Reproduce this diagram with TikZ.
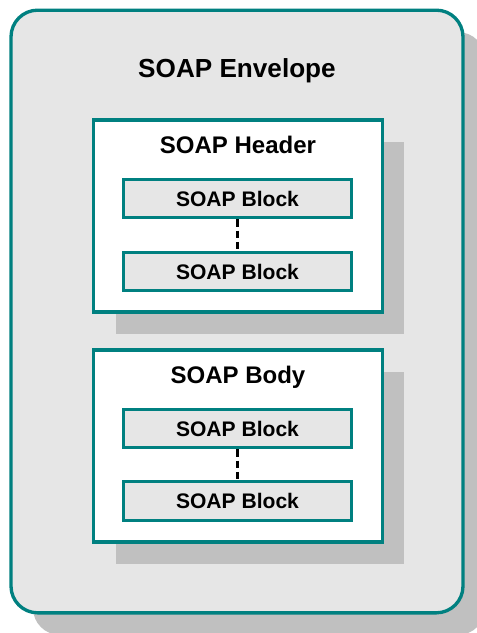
\documentclass[tikz,border=0pt]{standalone}
\usepackage{fontspec}
\setmainfont{Liberation Sans}
\usetikzlibrary{shadows}

\definecolor{soapteal}{RGB}{0,128,128}
\definecolor{soapgray}{RGB}{230,230,230}
\definecolor{soapshade}{RGB}{192,192,192}

\tikzset{
	soap shadow/.style={drop shadow={shadow xshift=16.5pt, shadow yshift=-16.5pt, opacity=1, fill=soapshade}},
	envelope box/.style={draw=soapteal, line width=2.5pt, fill=soapgray, rounded corners=20pt, minimum width=339pt, minimum height=452pt, inner sep=0pt, soap shadow},
	part box/.style={draw=soapteal, line width=2.3pt, fill=white, minimum width=216.5pt, minimum height=144pt, inner sep=0pt, soap shadow},
	block box/.style={draw=soapteal, line width=2.2pt, fill=soapgray, minimum width=171.5pt, minimum height=29pt, inner sep=0pt, font=\fontsize{15.8}{18}\selectfont\bfseries},
	title text/.style={anchor=base, inner sep=0pt, font=\fontsize{18}{21}\selectfont\bfseries},
	block link/.style={draw=black, line width=1.8pt, dash pattern=on 5.5pt off 3pt}}
\tikzset{every picture/.style={line width=0.75pt}}

\begin{document}
\begin{tikzpicture}[x=0.75pt,y=0.75pt,yscale=-1,xscale=1]
	\useasboundingbox (0,0) rectangle (476,633);

	%Shape: Rounded Rect [envelope]
	\node [envelope box] (envelope) at (237,311.5) {};
	%Shape: Rectangle [header]
	\node [part box] (header) at (238,216) {};
	%Shape: Rectangle [body]
	\node [part box] (body) at (238,446) {};

	%Shape: Rectangle [header blocks]
	\node [block box] (hblocka) at (237.5,198.5) {SOAP Block};
	\node [block box] (hblockb) at (237.5,271.5) {SOAP Block};
	%Shape: Rectangle [body blocks]
	\node [block box] (bblocka) at (237.5,428.5) {SOAP Block};
	\node [block box] (bblockb) at (237.5,501) {SOAP Block};

	%Straight Lines
	\draw [block link] (hblocka.south) -- (hblockb.north) ;
	\draw [block link] (bblocka.south) -- (bblockb.north) ;

	% Text Node
	\node [title text, font=\fontsize{19.6}{23}\selectfont\bfseries] (envtitle) at (237,77) {SOAP Envelope};
	% Text Node
	\node [title text] (headertitle) at (238,153) {SOAP Header};
	% Text Node
	\node [title text] (bodytitle) at (238,383) {SOAP Body};

\end{tikzpicture}
\end{document}
